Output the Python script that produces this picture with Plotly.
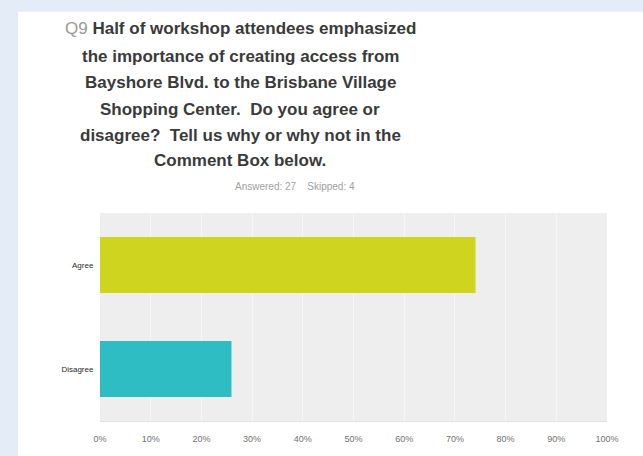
import plotly.graph_objects as go

categories = ["Agree", "Disagree"]
values = [74.07, 25.93]
bar_colors = ["#cfd51f", "#2fbdc4"]
tick_vals = [0, 10, 20, 30, 40, 50, 60, 70, 80, 90, 100]
tick_text = ["0%", "10%", "20%", "30%", "40%", "50%", "60%", "70%", "80%", "90%", "100%"]
title_lines = [
    "<span style='color:#9a9a9a;font-weight:normal'>Q9</span> Half of workshop attendees emphasized",
    "the importance of creating access from",
    "Bayshore Blvd. to the Brisbane Village",
    "Shopping Center.  Do you agree or",
    "disagree?  Tell us why or why not in the",
    "Comment Box below.",
]
subtitle = "Answered: 27    Skipped: 4"

W, H = 643, 456
L, R, T, B = 100, 36, 213, 31
pw, ph = W - L - R, H - T - B

def px_x(x):
    return (x - L) / pw

def px_y(y):
    return (H - B - y) / ph

fig = go.Figure()
fig.add_trace(go.Bar(
    y=categories, x=values, orientation="h",
    marker=dict(color=bar_colors, line=dict(width=0)),
    width=0.54, hoverinfo="skip",
))

shapes = [
    dict(type="rect", xref="paper", yref="paper", x0=px_x(18), x1=px_x(W + 5),
         y0=px_y(8), y1=px_y(H + 5), fillcolor="white", line=dict(width=0), layer="below"),
    dict(type="rect", xref="paper", yref="paper", x0=0, x1=1, y0=0, y1=1,
         fillcolor="#eeeeee", line=dict(width=0), layer="below"),
]

annotations = []
line_y = [25, 53, 80, 107, 134, 159]
for txt, yy in zip(title_lines, line_y):
    annotations.append(dict(
        text=txt, xref="paper", yref="paper", x=px_x(240), y=px_y(yy),
        xanchor="center", yanchor="middle", showarrow=False,
        font=dict(family="Liberation Sans, Arial, sans-serif", size=17, color="#3a3a3a", weight="bold"),
    ))
annotations.append(dict(
    text=subtitle, xref="paper", yref="paper", x=px_x(295), y=px_y(186),
    xanchor="center", yanchor="middle", showarrow=False,
    font=dict(family="Liberation Sans, Arial, sans-serif", size=10, color="#a0a0a0"),
))

fig.update_layout(
    width=W, height=H,
    margin=dict(l=L, r=R, t=T, b=B),
    paper_bgcolor="#e4edf7",
    plot_bgcolor="rgba(0,0,0,0)",
    showlegend=False,
    shapes=shapes,
    annotations=annotations,
    xaxis=dict(
        range=[0, 100], tickvals=tick_vals, ticktext=tick_text,
        showgrid=True, gridcolor="#f6f6f6", gridwidth=1,
        zeroline=False, showline=True, linecolor="#e2e2e2", linewidth=1,
        ticks="outside", ticklen=9, tickcolor="rgba(0,0,0,0)",
        tickfont=dict(family="Liberation Sans, Arial, sans-serif", size=9, color="#707070"),
        fixedrange=True,
    ),
    yaxis=dict(
        autorange="reversed", showgrid=False, zeroline=False, showline=False,
        ticks="outside", ticklen=4, tickcolor="rgba(0,0,0,0)",
        tickfont=dict(family="Liberation Sans, Arial, sans-serif", size=8, color="#2a2a2a"),
        fixedrange=True,
    ),
)

fig.write_html("out.html", config={"displayModeBar": False})
